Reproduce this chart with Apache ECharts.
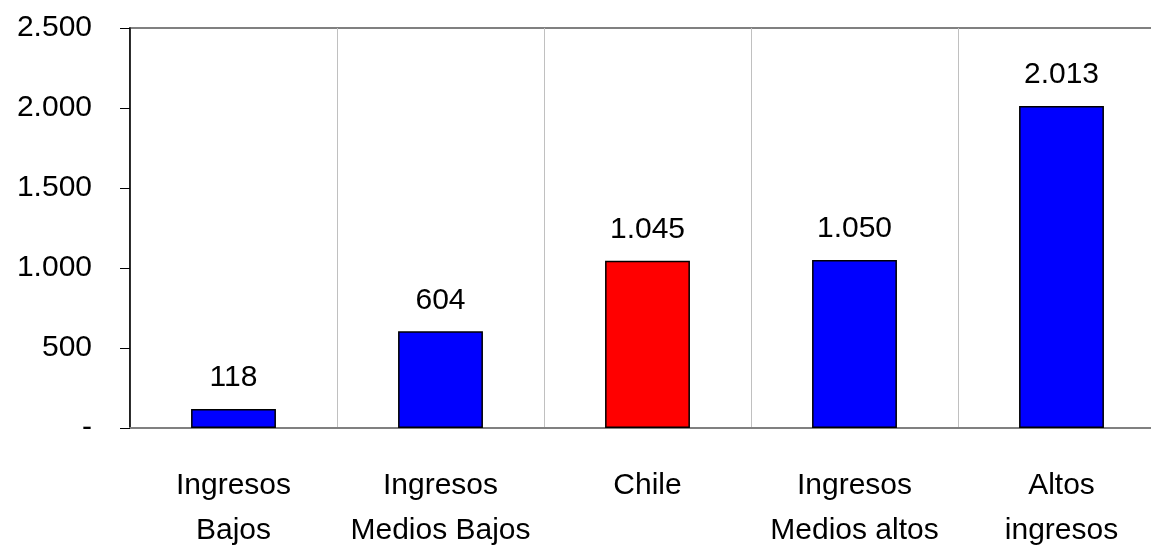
<!DOCTYPE html>
<html>
<head>
<meta charset="utf-8">
<script src="https://cdn.jsdelivr.net/npm/echarts@6/dist/echarts.min.js"></script>
<style>
  html, body { margin: 0; padding: 0; background: #fff; overflow: hidden; }
  #chart { width: 1151px; height: 549px; }
</style>
</head>
<body>
<div id="chart"></div>
<script>
var categories = ['Ingresos\nBajos', 'Ingresos\nMedios Bajos', 'Chile', 'Ingresos\nMedios altos', 'Altos\ningresos'];
var values = [118, 604, 1045, 1050, 2013];
var barColors = ['#0000ff', '#0000ff', '#ff0000', '#0000ff', '#0000ff'];

var font = "'Liberation Sans Narrow', 'Arial Narrow', 'Liberation Sans', sans-serif";

function fmt(v) {
    if (v === 0) return '-';
    return String(v).replace(/\B(?=(\d{3})+(?!\d))/g, '.');
}

var myChart = echarts.init(document.getElementById('chart'));
var option = {
    animation: false,
    grid: {
        left: 130,
        width: 1035,
        top: 28,
        height: 400,
        outerBoundsMode: 'none',
        containLabel: false,
        show: true,
        borderColor: '#808080',
        borderWidth: 2
    },
    xAxis: {
        type: 'category',
        data: categories,
        axisLine: { lineStyle: { color: '#808080', width: 2 } },
        axisTick: { show: false },
        splitLine: { show: true, interval: 0, lineStyle: { color: '#c0c0c0', width: 1 } },
        axisLabel: {
            interval: 0,
            color: '#000',
            fontFamily: font,
            fontSize: 30,
            lineHeight: 45,
            margin: 35
        }
    },
    yAxis: {
        type: 'value',
        min: 0,
        max: 2500,
        interval: 500,
        axisLine: { show: true, lineStyle: { color: '#000', width: 1.5 } },
        axisTick: { show: true, length: 10, lineStyle: { color: '#000' } },
        splitLine: { show: false },
        axisLabel: {
            color: '#000',
            fontFamily: font,
            fontSize: 30,
            margin: 38,
            formatter: fmt
        }
    },
    series: [{
        type: 'bar',
        barWidth: '41%',
        data: values.map(function(v, i) {
            return { value: v, itemStyle: { color: barColors[i] } };
        }),
        itemStyle: { borderColor: '#000', borderWidth: 1.5 },
        label: {
            show: true,
            position: 'top',
            distance: 16,
            color: '#000',
            fontFamily: font,
            fontSize: 30,
            formatter: function(p) { return fmt(p.value); }
        }
    }]
};
myChart.setOption(option);
</script>
</body>
</html>
